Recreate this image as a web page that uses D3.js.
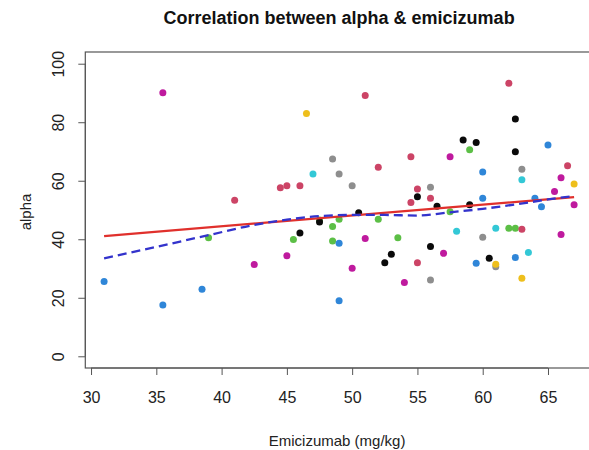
<!DOCTYPE html>
<html>
<head>
<meta charset="utf-8">
<script src="https://cdn.jsdelivr.net/npm/d3@7"></script>
<style>
  body { margin: 0; background: #fff; }
  svg { display: block; font-family: "Liberation Sans", Arial, Helvetica, sans-serif; }
</style>
</head>
<body>
<svg id="chart" width="589" height="450"></svg>
<script>
// ---- data ----
const title = "Correlation between alpha & emicizumab";
const xLabel = "Emicizumab (mg/kg)";
const yLabel = "alpha";
const xTicks = [30, 35, 40, 45, 50, 55, 60, 65];
const yTicks = [0, 20, 40, 60, 80, 100];

const magentaX = [35.5, 57.5, 66, 65.5, 67, 51, 42.5, 45, 50, 54, 66, 57];
const magentaY = [90.1, 68.2, 61, 56.3, 51.8, 40.3, 31.4, 34.4, 30.1, 25.2, 41.6, 35.2];
const crimsonX = [41, 51, 44.5, 45, 46, 52, 54.5, 55, 54.5, 62, 66.5, 56, 63, 55];
const crimsonY = [53.3, 89.1, 57.6, 58.3, 58.3, 64.6, 68.2, 57.2, 52.6, 93.3, 65.1, 54, 43.4, 32];
const greenX = [59, 39, 47.5, 49, 48.5, 52, 45.5, 48.5, 53.5, 57.5, 62, 62.5];
const greenY = [70.6, 40.5, 46.6, 46.8, 44.4, 46.8, 39.9, 39.4, 40.5, 49.4, 43.8, 43.8];
const blackX = [55, 58.5, 59.5, 62.5, 62.5, 56.5, 59, 50.5, 47.5, 46, 52.5, 53, 56, 60.5];
const blackY = [54.5, 73.9, 73.1, 81.1, 69.9, 51.3, 51.8, 49.1, 45.9, 42.1, 32, 34.9, 37.5, 33.5];
const blueX = [65, 60, 60, 64, 64.5, 31, 35.5, 38.5, 49, 49, 59.5, 62.5];
const blueY = [72.2, 63, 54, 54, 51.1, 25.6, 17.5, 22.9, 38.6, 19, 31.8, 33.8];
const cyanX = [47, 63, 58, 61, 63.5];
const cyanY = [62.3, 60.3, 42.7, 43.8, 35.5];
const greyX = [48.5, 49, 50, 63, 56, 60, 61, 56];
const greyY = [67.4, 62.3, 58.3, 63.9, 57.8, 40.7, 30.6, 26.1];
const yellowX = [46.5, 67, 61, 63];
const yellowY = [83, 58.9, 31.5, 26.7];

// linear fit (solid red) and smooth fit (dashed blue)
const fitX = [31, 67];
const fitY = [41.1, 54.4];
const smoothX = [31, 35, 39, 42.5, 45, 47.5, 50, 52.5, 55, 57.5, 60, 62.5, 65, 67];
const smoothY = [33.5, 37.4, 41.4, 44.9, 46.7, 47.9, 48.3, 48.3, 48.1, 49.2, 50.4, 51.9, 53.6, 54.8];

const groups = [
  {x: greyX, y: greyY, color: "#8e8e8e"},
  {x: greenX, y: greenY, color: "#5cbf46"},
  {x: crimsonX, y: crimsonY, color: "#cc4466"},
  {x: magentaX, y: magentaY, color: "#bf1a9e"},
  {x: blueX, y: blueY, color: "#2f86d8"},
  {x: cyanX, y: cyanY, color: "#33c8d6"},
  {x: yellowX, y: yellowY, color: "#eebf1c"},
  {x: blackX, y: blackY, color: "#0a0a0a"}
];

// ---- chart ----
const svg = d3.select("#chart");
const x = d3.scaleLinear().domain([29.56, 68.44]).range([85.3, 592.9]);
const y = d3.scaleLinear().domain([-4, 104]).range([368, 52]);
const FONT = "Liberation Sans, Arial, sans-serif";

// plot box
svg.append("rect")
  .attr("x", x.range()[0]).attr("y", y.range()[1])
  .attr("width", x.range()[1] - x.range()[0])
  .attr("height", y.range()[0] - y.range()[1])
  .attr("fill", "none").attr("stroke", "#555").attr("stroke-width", 1.2);

// x axis
const xAxis = svg.append("g").attr("transform", `translate(0,${y.range()[0]})`)
  .call(d3.axisBottom(x).tickValues(xTicks).tickFormat(d3.format("d")).tickSize(7).tickPadding(16.5));
xAxis.select(".domain").attr("d", `M${x(xTicks[0])},0H${x(xTicks[xTicks.length-1])}`).attr("stroke", "#555");
xAxis.selectAll(".tick line").attr("stroke", "#555");
xAxis.selectAll("text").attr("font-size", 16).attr("fill", "#222").attr("font-family", FONT);

// y axis
const yAxis = svg.append("g").attr("transform", `translate(${x.range()[0]},0)`)
  .call(d3.axisLeft(y).tickValues(yTicks).tickFormat(d3.format("d")).tickSize(7).tickPadding(13));
yAxis.select(".domain").attr("d", `M0,${y(yTicks[0])}V${y(yTicks[yTicks.length-1])}`).attr("stroke", "#555");
yAxis.selectAll(".tick line").attr("stroke", "#555");
yAxis.selectAll(".tick text")
  .attr("font-size", 16).attr("fill", "#222").attr("font-family", FONT)
  .attr("text-anchor", "middle").attr("x", 0).attr("dy", 0)
  .attr("transform", "translate(-25.5,0) rotate(-90)")
  .attr("y", 0).attr("dominant-baseline", "middle");

// points
groups.forEach(g => {
  const pts = d3.zip(g.x, g.y);
  svg.append("g").selectAll("circle").data(pts).join("circle")
    .attr("cx", d => x(d[0])).attr("cy", d => y(d[1]))
    .attr("r", 3.5).attr("fill", g.color);
});

// fit lines
const line = d3.line().x(d => x(d[0])).y(d => y(d[1]));
svg.append("path").datum(d3.zip(fitX, fitY))
  .attr("d", line).attr("fill", "none").attr("stroke", "#e0302c").attr("stroke-width", 2.3);
svg.append("path").datum(d3.zip(smoothX, smoothY))
  .attr("d", line.curve(d3.curveMonotoneX)).attr("fill", "none")
  .attr("stroke", "#3333cc").attr("stroke-width", 2.3).attr("stroke-dasharray", "9,5");

// titles
const cx = (x.range()[0] + x.range()[1]) / 2;
svg.append("text").attr("x", cx).attr("y", 23.5).attr("text-anchor", "middle")
  .attr("font-size", 18).attr("font-weight", "bold").attr("fill", "#111").text(title);
svg.append("text").attr("x", cx - 2).attr("y", 446).attr("text-anchor", "middle")
  .attr("font-size", 15).attr("fill", "#222").text(xLabel);
svg.append("text").attr("transform", `translate(31,${(y.range()[0] + y.range()[1]) / 2 + 2}) rotate(-90)`)
  .attr("text-anchor", "middle").attr("font-size", 15).attr("fill", "#222").text(yLabel);
</script>
</body>
</html>
